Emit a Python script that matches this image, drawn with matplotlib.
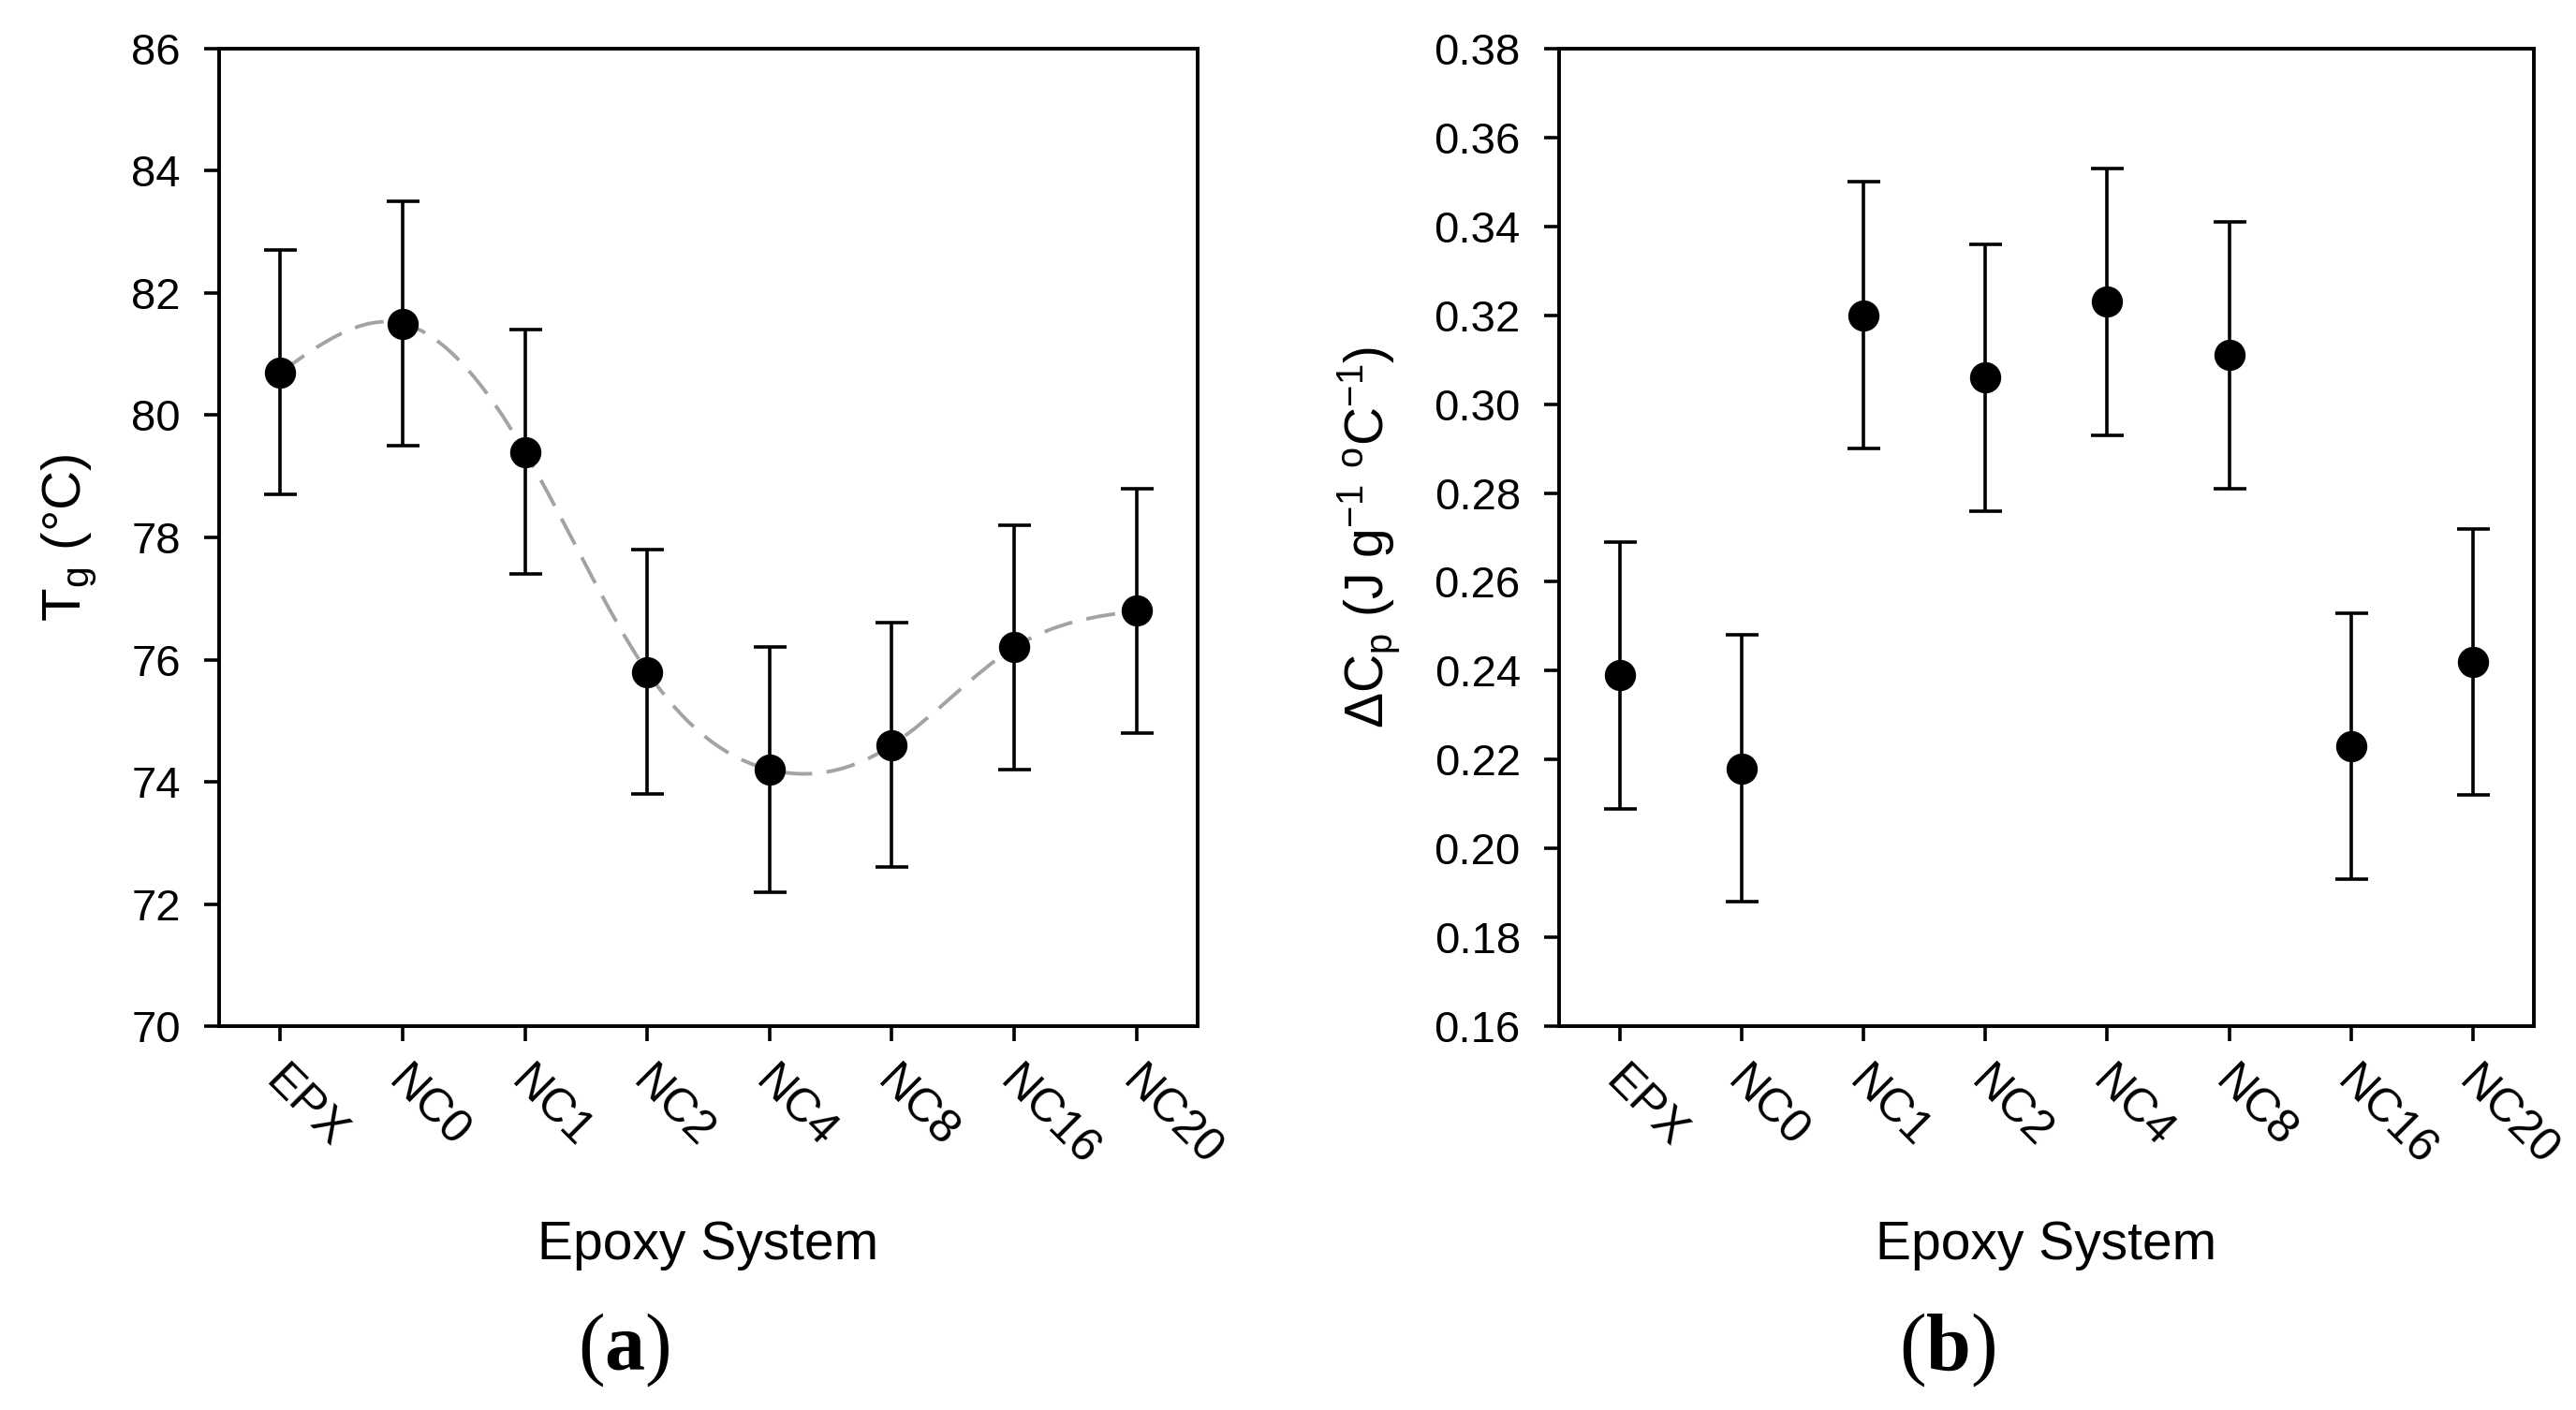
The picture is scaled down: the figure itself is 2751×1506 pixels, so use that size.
import numpy as np
import matplotlib
matplotlib.use('Agg')
import matplotlib.pyplot as plt
from matplotlib.path import Path
from matplotlib.patches import PathPatch
from matplotlib.ticker import FormatStrFormatter
from matplotlib.transforms import ScaledTranslation

plt.rcParams['font.family'] = ['Liberation Sans', 'DejaVu Sans']
plt.rcParams['mathtext.fontset'] = 'custom'
plt.rcParams['mathtext.bf'] = 'Liberation Serif:bold'
plt.rcParams['mathtext.rm'] = 'Liberation Sans'

systems = ['EPX', 'NC0', 'NC1', 'NC2', 'NC4', 'NC8', 'NC16', 'NC20']

tg = [80.7, 81.5, 79.4, 75.8, 74.2, 74.6, 76.2, 76.8]
tg_err = [2.0, 2.0, 2.0, 2.0, 2.0, 2.0, 2.0, 2.0]

dcp = [0.239, 0.218, 0.320, 0.306, 0.323, 0.311, 0.223, 0.242]
dcp_err = [0.030, 0.030, 0.030, 0.030, 0.030, 0.030, 0.030, 0.030]

DPI = 200
fig = plt.figure(figsize=(2751 / DPI, 1506 / DPI), dpi=DPI)
ax_a = fig.add_axes([0.0851, 0.2722, 0.3798, 0.6933])
ax_b = fig.add_axes([0.6052, 0.2722, 0.3784, 0.6933])

SPINE_W = 1.4
YTICK_FS = 17
XTICK_FS = 18
LABEL_FS = 20.5


def spline_path(xs, ys):
    # natural cubic spline through the points, drawn as bezier segments
    n = len(xs) - 1
    h = 1.0
    A = np.zeros((n + 1, n + 1))
    b = np.zeros(n + 1)
    A[0, 0] = A[n, n] = 1.0
    for i in range(1, n):
        A[i, i - 1], A[i, i], A[i, i + 1] = 1.0, 4.0, 1.0
        b[i] = 6.0 * (ys[i + 1] - 2 * ys[i] + ys[i - 1]) / h ** 2
    M = np.linalg.solve(A, b)
    m = np.zeros(n + 1)
    for i in range(n):
        m[i] = (ys[i + 1] - ys[i]) / h - h * (2 * M[i] + M[i + 1]) / 6.0
    m[n] = (ys[n] - ys[n - 1]) / h + h * (M[n - 1] + 2 * M[n]) / 6.0
    verts = [(xs[0], ys[0])]
    codes = [Path.MOVETO]
    for i in range(n):
        verts += [(xs[i] + h / 3, ys[i] + m[i] * h / 3),
                  (xs[i + 1] - h / 3, ys[i + 1] - m[i + 1] * h / 3),
                  (xs[i + 1], ys[i + 1])]
        codes += [Path.CURVE4] * 3
    return Path(verts, codes)


def style_axes(ax):
    for s in ax.spines.values():
        s.set_linewidth(SPINE_W)
        s.set_color('black')
    ax.tick_params(axis='both', direction='out', length=5.8, width=1.3,
                   top=False, right=False)
    ax.tick_params(axis='y', pad=9, labelsize=YTICK_FS)
    ax.tick_params(axis='x', pad=7, labelsize=XTICK_FS)
    ax.set_xlim(-0.5, 7.5)
    x = np.arange(len(systems))
    ax.set_xticks(x)
    ax.set_xticklabels(systems, rotation=-45, ha='left', va='top',
                       rotation_mode='anchor')
    shift = ScaledTranslation(3 / 72, 0, fig.dpi_scale_trans)
    for lab in ax.get_xticklabels():
        lab.set_transform(lab.get_transform() + shift)
    ax.set_xlabel('Epoxy System', fontsize=LABEL_FS)
    ax.xaxis.set_label_coords(0.5, -0.198)


x = np.arange(len(systems))

# (a) glass transition temperature
style_axes(ax_a)
curve = PathPatch(spline_path(x, tg), fill=False, edgecolor='#a3a3a3',
                  linewidth=1.4, linestyle=(0, (8, 4)), zorder=1)
ax_a.add_patch(curve)
ax_a.errorbar(x, tg, yerr=tg_err, fmt='o', color='black', markersize=11,
              elinewidth=1.3, capsize=6.3, capthick=1.3, zorder=3)
ax_a.set_ylim(70, 86)
ax_a.set_yticks(np.arange(70, 87, 2))
ax_a.set_ylabel('T$_\\mathregular{g}$ (°C)', fontsize=LABEL_FS + 0.5)
ax_a.yaxis.set_label_coords(-0.123, 0.5)

# (b) heat capacity step
style_axes(ax_b)
ax_b.errorbar(x, dcp, yerr=dcp_err, fmt='o', color='black', markersize=11,
              elinewidth=1.3, capsize=6.3, capthick=1.3, zorder=3)
ax_b.set_ylim(0.16, 0.38)
ax_b.set_yticks(np.arange(0.16, 0.381, 0.02))
ax_b.yaxis.set_major_formatter(FormatStrFormatter('%.2f'))
ax_b.set_ylabel('ΔC$_\\mathregular{p}$ (J g$^\\mathregular{-1}$ '
                '$^\\mathregular{o}$C$^\\mathregular{-1}$)', fontsize=LABEL_FS)
ax_b.yaxis.set_label_coords(-0.161, 0.5)

fig.text(0.2421, 0.042, '($\\mathbf{a}$)', fontsize=31, ha='center',
         va='center', family='Liberation Serif')
fig.text(0.7561, 0.042, '($\\mathbf{b}$)', fontsize=31, ha='center',
         va='center', family='Liberation Serif')

fig.savefig('out.png', dpi=DPI)
